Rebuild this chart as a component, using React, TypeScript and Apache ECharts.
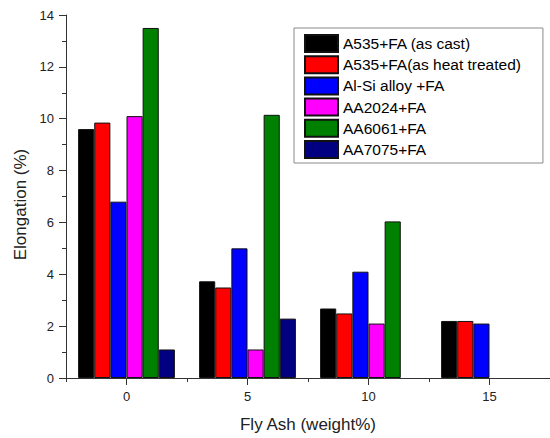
import React, { useEffect, useRef } from "react";
import * as echarts from "echarts";

const categories = ["0", "5", "10", "15"];
const seriesNames = [
  "A535+FA (as cast)",
  "A535+FA(as heat treated)",
  "Al-Si alloy +FA",
  "AA2024+FA",
  "AA6061+FA",
  "AA7075+FA",
];
const a535Cast = [9.6, 3.73, 2.68, 2.2];
const a535Heat = [9.85, 3.49, 2.49, 2.2];
const alSi = [6.8, 5.0, 4.1, 2.1];
const aa2024 = [10.1, 1.1, 2.1, "-"];
const aa6061 = [13.5, 10.15, 6.04, "-"];
const aa7075 = [1.1, 2.29, "-", "-"];
const yTicks = [0, 2, 4, 6, 8, 10, 12, 14];

const seriesData = [a535Cast, a535Heat, alSi, aa2024, aa6061, aa7075];
const colors = ["#000000", "#ff0000", "#0000ff", "#ff00ff", "#008000", "#000080"];
const FONT = "'Liberation Sans', Arial, sans-serif";

export default function App() {
  const ref = useRef<HTMLDivElement>(null);
  useEffect(() => {
    if (!ref.current) return;
    const chart = echarts.init(ref.current, undefined, { renderer: "svg" });
    chart.setOption({
      animation: false,
      backgroundColor: "#ffffff",
      textStyle: { fontFamily: FONT },
      grid: { left: 66, right: -4, top: 15, bottom: 56, containLabel: false },
      legend: {
        orient: "vertical",
        left: 294,
        top: 28,
        itemWidth: 33,
        itemHeight: 17,
        itemGap: 2.2,
        padding: [6, 22, 4, 10],
        borderColor: "#8a8a8a",
        borderWidth: 1,
        backgroundColor: "#ffffff",
        icon: "rect",
        data: seriesNames,
        textStyle: { fontFamily: FONT, fontSize: 15.5, color: "#000" },
      },
      xAxis: [
        {
          type: "category",
          position: "bottom",
          data: categories,
          name: "Fly Ash (weight%)",
          nameLocation: "middle",
          nameGap: 38,
          nameTextStyle: { fontFamily: FONT, fontSize: 17, color: "#222" },
          axisLine: { show: true, lineStyle: { color: "#333", width: 1 } },
          axisTick: { show: true, alignWithLabel: false, length: 4, lineStyle: { color: "#333" } },
          axisLabel: { fontFamily: FONT, fontSize: 13, color: "#222", margin: 12 },
          splitLine: { show: false },
        },
        {
          type: "category",
          position: "bottom",
          data: categories,
          axisLine: { show: false },
          axisTick: { show: true, alignWithLabel: true, length: 7, lineStyle: { color: "#333" } },
          axisLabel: { show: false },
          splitLine: { show: false },
        },
      ],
      yAxis: {
        type: "value",
        min: yTicks[0],
        max: yTicks[yTicks.length - 1],
        interval: 2,
        name: "Elongation (%)",
        nameLocation: "middle",
        nameGap: 34,
        nameRotate: 90,
        nameTextStyle: { fontFamily: FONT, fontSize: 17, color: "#222", padding: [0, 16, 0, 0] },
        axisLine: { show: true, lineStyle: { color: "#333", width: 1 } },
        axisTick: { show: true, length: 7, lineStyle: { color: "#333" } },
        minorTick: { show: true, splitNumber: 2, length: 4, lineStyle: { color: "#333" } },
        axisLabel: { fontFamily: FONT, fontSize: 13, color: "#222", margin: 12 },
        splitLine: { show: false },
        minorSplitLine: { show: false },
      },
      series: seriesData.map((d, i) => ({
        name: seriesNames[i],
        type: "bar",
        xAxisIndex: 0,
        data: d,
        barGap: "0%",
        barCategoryGap: "20%",
        itemStyle: { color: colors[i], borderColor: "#111", borderWidth: 1 },
      })),
    });
    return () => chart.dispose();
  }, []);
  return (
    <div
      ref={ref}
      style={{ position: "absolute", left: 0, top: 0, width: 550, height: 438 }}
    />
  );
}
